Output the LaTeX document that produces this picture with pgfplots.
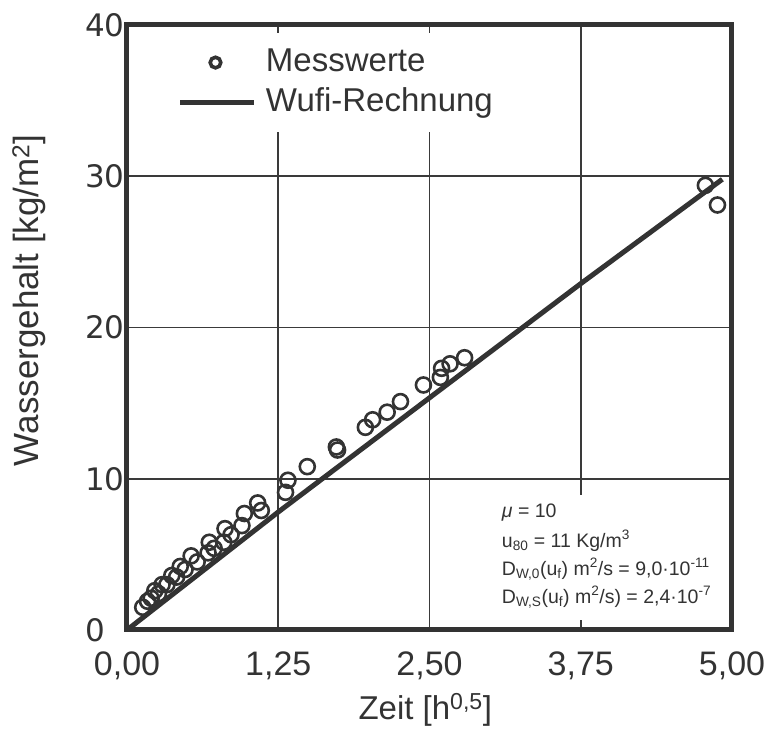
\documentclass[border=0pt]{standalone}
\usepackage{pgfplots}
\pgfplotsset{compat=1.18}
\usepackage{fontspec}
\setmainfont{Liberation Sans}
\newfontfamily\tickfont{DejaVu Sans}
\definecolor{dk}{HTML}{333333}
\definecolor{gridc}{HTML}{3A3A3A}

\begin{document}
\begin{tikzpicture}
\begin{axis}[
  at={(0pt,0pt)}, anchor=south west,
  scale only axis, width=605pt, height=605pt,
  xmin=0, xmax=5, ymin=0, ymax=40,
  xtick={0,1.25,2.5,3.75,5},
  xticklabels={{0,00},{1,25},{2,50},{3,75},{5,00}},
  ytick={0,10,20,30,40},
  major tick length=0pt,
  grid=major,
  major grid style={line width=1.9pt, color=gridc},
  axis line style={line width=5pt, color=dk},
  /pgf/number format/assume math mode=true,
  xticklabel style={font=\fontsize{34}{40}\selectfont, text=dk, anchor=north, inner sep=0pt, yshift=-22pt},
  yticklabel style={font=\tickfont\fontsize{31}{36}\selectfont, text=dk, anchor=west, inner sep=0pt, xshift=-42pt},
  xlabel={Zeit [h\textsuperscript{0,5}]},
  ylabel={Wassergehalt [kg/m\textsuperscript{2}]},
  xlabel style={font=\fontsize{33}{40}\selectfont, text=dk, at={(axis description cs:0.493,-0.132)}, anchor=center},
  ylabel style={font=\fontsize{35}{42}\selectfont, text=dk, at={(axis description cs:-0.162,0.545)}, anchor=center, rotate=0},
  legend style={at={(axis description cs:0.079,0.987)}, anchor=north west,
    fill=white, draw=none, inner xsep=3pt, inner ysep=14pt,
    font=\fontsize{33}{40}\selectfont, text=dk,
    nodes={text height=24pt, text depth=7pt, inner ysep=0pt, inner xsep=0pt},
    row sep=9pt, column sep=9pt},
  legend cell align=left,
]
% measured water content
\addplot[only marks, mark=o, mark size=7.5pt, mark options={line width=2.6pt, draw=dk},
  legend image code/.code={\path (0pt,0pt) (74pt,0pt); \draw[dk, line width=3.6pt] (35pt,0pt) circle (5.3pt);}]
  table {
x y
0.13 1.5
0.17 1.9
0.20 2.1
0.23 2.6
0.26 2.4
0.29 3.0
0.33 3.0
0.37 3.6
0.41 3.5
0.44 4.2
0.48 4.0
0.53 4.9
0.58 4.5
0.67 5.1
0.68 5.8
0.72 5.4
0.80 5.8
0.81 6.7
0.86 6.3
0.95 6.9
0.97 7.7
1.08 8.4
1.11 7.9
1.31 9.1
1.33 9.9
1.49 10.8
1.73 12.1
1.74 11.9
1.97 13.4
2.03 13.9
2.15 14.4
2.26 15.1
2.45 16.2
2.59 16.7
2.60 17.3
2.67 17.6
2.79 18.0
4.78 29.4
4.88 28.1
};
\addlegendentry{Messwerte}
% simulation
\addplot[dk, line width=5pt, no marks,
  legend image code/.code={\draw[dk, line width=5pt] (0pt,0pt) -- (74pt,0pt);}]
  table {
x y
0.00 0.0
1.25 7.8
2.50 15.35
3.75 22.9
4.92 29.8
};
\addlegendentry{Wufi-Rechnung}

% parameter box
\node[fill=white, inner sep=0pt, anchor=south west, minimum width=225pt, minimum height=125pt] at (axis cs:3.04,0.66) {};
\begin{scope}[every node/.style={anchor=base west, inner sep=0pt, text=dk, font=\fontsize{19.5}{23}\selectfont}]
\node at (axis cs:3.097,7.46) {\textit{μ} = 10};
\node at (axis cs:3.097,5.48) {u\textsubscript{80} = 11 Kg/m\textsuperscript{3}};
\node at (axis cs:3.097,3.63) {D\textsubscript{W,0}(u\textsubscript{f}) m\textsuperscript{2}/s = 9,0·10\textsuperscript{-11}};
\node at (axis cs:3.097,1.78) {D\textsubscript{W,S}(u\textsubscript{f}) m\textsuperscript{2}/s) = 2,4·10\textsuperscript{-7}};
\end{scope}
\end{axis}
\pgfresetboundingbox
\path[use as bounding box] (-127pt,-105pt) rectangle (642pt,630pt);
\end{tikzpicture}
\end{document}
